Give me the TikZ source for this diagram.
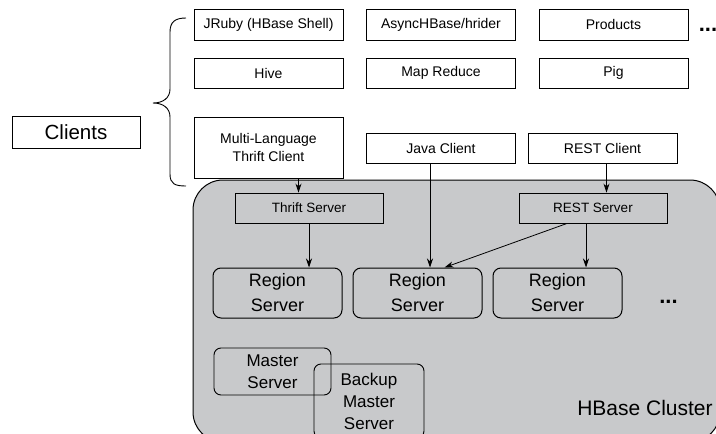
\documentclass[tikz,border=0pt]{standalone}
\usepackage{fontspec}
\setmainfont{Liberation Sans}
\usetikzlibrary{arrows.meta,calc}
\definecolor{clustergray}{HTML}{C8C9CB}
\begin{document}
\begin{tikzpicture}[x=1pt,y=-1pt,
  box/.style={draw,line width=0.9pt,inner sep=0pt,align=center,font=\fontsize{14}{18}\selectfont},
  small/.style={box,minimum width=149pt,minimum height=31pt},
  srv/.style={box,minimum width=148pt,minimum height=30pt,font=\fontsize{13.5}{16}\selectfont},
  region/.style={draw,line width=1pt,rounded corners=8pt,minimum width=129pt,minimum height=50pt,inner sep=0pt,align=center,font=\fontsize{18}{25}\selectfont},
  master/.style={draw,line width=0.9pt,rounded corners=7pt,inner sep=0pt,align=center,font=\fontsize{17}{22}\selectfont},
  dots/.style={font=\fontsize{22}{22}\selectfont\bfseries,inner sep=0pt,anchor=base},
  arr/.style={line width=0.8pt,-{Stealth[length=9pt,width=6pt]}}]
\useasboundingbox (0,0) rectangle (716,434);
\clip (0,0) rectangle (716,434);
\fill[white] (0,0) rectangle (716,434);
% cluster
\draw[line width=1pt,fill=clustergray,rounded corners=30pt] (193,180) rectangle (720,442);
% top client boxes
\node[small] (jruby) at (268.5,24.5) {JRuby (HBase Shell)};
\node[small] (async) at (441,24.5) {AsyncHBase/hrider};
\node[small] (products) at (613.5,24.5) {Products};
\node[dots] (topdots) at (708,31) {...};
\node[small,minimum height=30pt] (hive) at (268.5,73) {Hive};
\node[small,minimum height=30pt] (mapred) at (441,73) {Map Reduce};
\node[small,minimum height=30pt] (pig) at (613.5,73) {Pig};
\node[small,minimum height=61pt] (multi) at (268.5,147.5) {Multi-Language\\Thrift Client};
\node[small,minimum height=30pt] (java) at (441,148) {Java Client};
\node[small,minimum height=30pt] (restc) at (602.5,148) {REST Client};
\node[box,minimum width=128pt,minimum height=32pt,font=\fontsize{20.5}{20.5}\selectfont] (clients) at (76,132) {Clients};
% brace
\draw[line width=0.9pt] (186,18) .. controls (175,18) and (170,22) .. (170,32) -- (170,89) .. controls (170,98) and (163,103) .. (153,103) .. controls (163,103) and (170,108) .. (170,117) -- (170,174) .. controls (170,184) and (175,186) .. (186,186);
% servers
\node[srv] (thrifts) at (309,208) {Thrift Server};
\node[srv] (rests) at (593,208) {REST Server};
\node[region] (rs1) at (277.5,293) {Region\\Server};
\node[region] (rs2) at (417.5,293) {Region\\Server};
\node[region] (rs3) at (557.5,293) {Region\\Server};
\node[dots] (rdots) at (668.5,303) {...};
\node[master,minimum width=117pt,minimum height=47pt] (mastersrv) at (272.5,371.5) {Master\\Server};
\node[master,minimum width=110pt,minimum height=74pt] (backup) at (369,401) {Backup\\Master\\Server};
\node[font=\fontsize{21}{21}\selectfont,inner sep=0pt] (label) at (645,408) {HBase Cluster};
% arrows
\draw[arr] ([xshift=30pt]multi.south) -- ([xshift=30pt]multi.south |- thrifts.north);
\draw[arr] ([xshift=-11pt]java.south) -- ([xshift=-11pt]java.south |- rs2.north);
\draw[arr] ([xshift=4pt]restc.south) -- ([xshift=4pt]restc.south |- rests.north);
\draw[arr] (thrifts.south) -- (thrifts.south |- rs1.north);
\draw[arr] ([xshift=-7pt]rests.south) -- ([xshift=-7pt]rests.south |- rs3.north);
\draw[arr] ([xshift=-26pt]rests.south) -- ([xshift=27pt]rs2.north);
\end{tikzpicture}
\end{document}
